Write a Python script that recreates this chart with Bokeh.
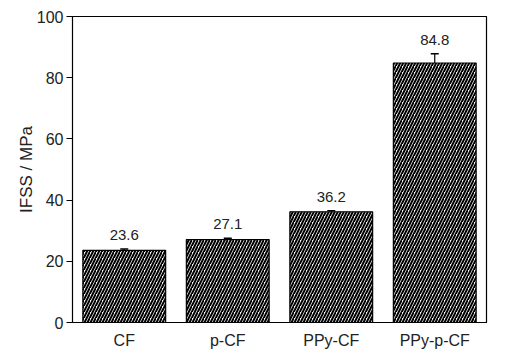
from bokeh.plotting import figure
from bokeh.models import ColumnDataSource, Whisker, TeeHead, FixedTicker, LabelSet
from bokeh.core.properties import value
from bokeh.embed import file_html
from bokeh.resources import INLINE

categories = ["CF", "p-CF", "PPy-CF", "PPy-p-CF"]
values = [23.6, 27.1, 36.2, 84.8]
errors = [0.4, 0.4, 0.3, 3.0]
labels = ["23.6", "27.1", "36.2", "84.8"]
y_ticks = [0, 20, 40, 60, 80, 100]

src = ColumnDataSource(dict(
    cat=categories,
    val=values,
    upper=[v + e for v, e in zip(values, errors)],
    lower=[v - e for v, e in zip(values, errors)],
    lab=labels,
))

p = figure(x_range=categories, y_range=(0, 100), width=513, height=362,
           output_backend="svg", toolbar_location=None,
           min_border_left=72, min_border_right=27, min_border_top=16, min_border_bottom=40)

p.vbar(x="cat", top="val", width=0.8, source=src, fill_color="white",
       line_color="black", line_width=1.2,
       hatch_pattern="right_diagonal_line", hatch_color="black",
       hatch_scale=6, hatch_weight=2)

w = Whisker(base="cat", upper="upper", lower="lower", source=src,
            line_color="black", line_width=1.2,
            upper_head=TeeHead(size=8, line_color="black", line_width=1.5),
            lower_head=TeeHead(size=8, line_color="black", line_width=1.5))
p.add_layout(w)

ls = LabelSet(x="cat", y="upper", text="lab", source=src, text_align="center",
              text_baseline="bottom", y_offset=9, text_font=value("Liberation Sans"),
              text_font_size="15px", text_color="#222222")
p.add_layout(ls)

p.xgrid.grid_line_color = None
p.ygrid.grid_line_color = None
p.outline_line_color = "black"
p.outline_line_width = 1.2
p.outline_line_alpha = 1

p.yaxis.ticker = FixedTicker(ticks=y_ticks)
p.yaxis.minor_tick_line_color = None
p.yaxis.major_tick_in = 0
p.yaxis.major_tick_out = 6
p.yaxis.major_label_text_font = "Liberation Sans"
p.yaxis.major_label_text_font_size = "16px"
p.yaxis.major_label_text_color = "#222222"
p.yaxis.major_label_standoff = 3
p.yaxis.axis_line_color = "black"
p.yaxis.axis_label = "IFSS / MPa"
p.yaxis.axis_label_text_font = "Liberation Sans"
p.yaxis.axis_label_text_font_size = "17px"
p.yaxis.axis_label_text_font_style = "normal"
p.yaxis.axis_label_text_color = "#222222"
p.yaxis.axis_label_standoff = -2

p.xaxis.major_tick_line_color = None
p.xaxis.minor_tick_line_color = None
p.xaxis.major_label_text_font = "Liberation Sans"
p.xaxis.major_label_text_font_size = "16px"
p.xaxis.major_label_text_color = "#222222"
p.xaxis.major_label_standoff = 3
p.xaxis.axis_line_color = "black"
p.x_range.range_padding = 0

open("out.html", "w").write(file_html(p, INLINE))
